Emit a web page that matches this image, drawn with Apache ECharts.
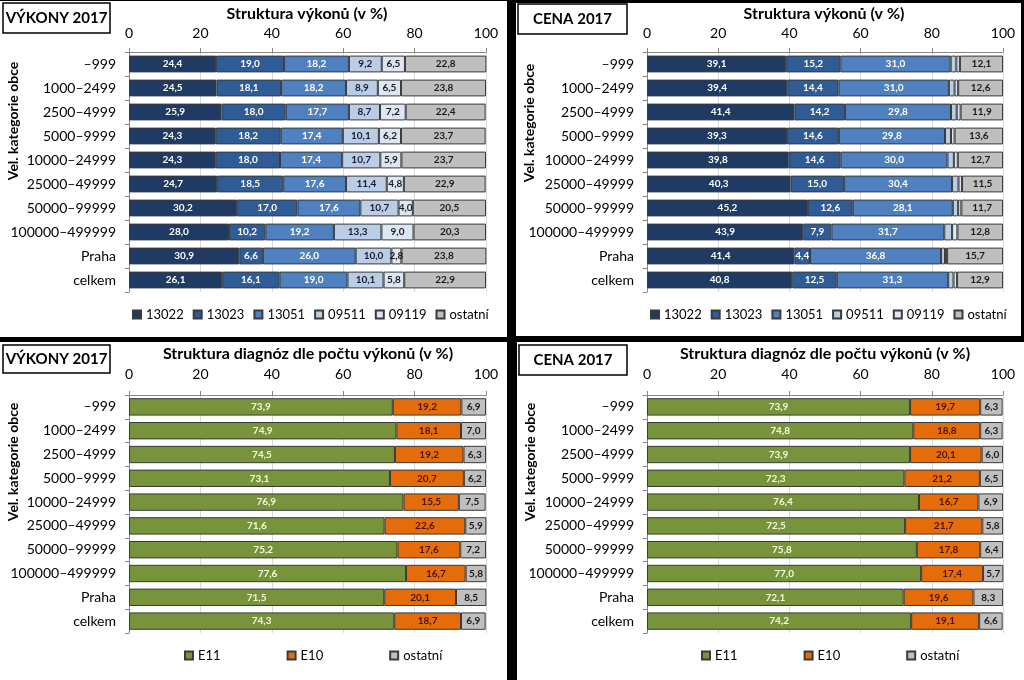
<!DOCTYPE html>
<html><head><meta charset="utf-8">
<script src="https://cdn.jsdelivr.net/npm/echarts@6/dist/echarts.min.js"></script>
<style>
html,body{margin:0;padding:0;background:#000;width:1024px;height:680px;overflow:hidden}
.p{position:absolute;background:#fff}
</style></head><body>
<div id="tl" class="p" style="left:0;top:1px;width:507px;height:336px"></div>
<div id="tr" class="p" style="left:516px;top:3px;width:505px;height:333px"></div>
<div id="bl" class="p" style="left:0;top:342px;width:507px;height:338px"></div>
<div id="br" class="p" style="left:517px;top:342px;width:507px;height:338px"></div>
<script>
const categories = ['–999','1000–2499','2500–4999','5000–9999','10000–24999','25000–49999','50000–99999','100000–499999','Praha','celkem'];
const xTicks = [0,20,40,60,80,100];

const vykony13022 = [24.4,24.5,25.9,24.3,24.3,24.7,30.2,28.0,30.9,26.1];
const vykony13023 = [19.0,18.1,18.0,18.2,18.0,18.5,17.0,10.2,6.6,16.1];
const vykony13051 = [18.2,18.2,17.7,17.4,17.4,17.6,17.6,19.2,26.0,19.0];
const vykony09511 = [9.2,8.9,8.7,10.1,10.7,11.4,10.7,13.3,10.0,10.1];
const vykony09119 = [6.5,6.5,7.2,6.2,5.9,4.8,4.0,9.0,2.8,5.8];
const vykonyOstatni = [22.8,23.8,22.4,23.7,23.7,22.9,20.5,20.3,23.8,22.9];

const cena13022 = [39.1,39.4,41.4,39.3,39.8,40.3,45.2,43.9,41.4,40.8];
const cena13023 = [15.2,14.4,14.2,14.6,14.6,15.0,12.6,7.9,4.4,12.5];
const cena13051 = [31.0,31.0,29.8,29.8,30.0,30.4,28.1,31.7,36.8,31.3];
const cena09511 = [1.6,1.6,1.6,1.7,1.8,1.8,1.5,2.2,1.1,1.5];
const cena09119 = [1.0,1.0,1.1,1.0,1.1,1.0,0.9,1.5,0.6,1.0];
const cenaOstatni = [12.1,12.6,11.9,13.6,12.7,11.5,11.7,12.8,15.7,12.9];

const diagVykonyE11 = [73.9,74.9,74.5,73.1,76.9,71.6,75.2,77.6,71.5,74.3];
const diagVykonyE10 = [19.2,18.1,19.2,20.7,15.5,22.6,17.6,16.7,20.1,18.7];
const diagVykonyOstatni = [6.9,7.0,6.3,6.2,7.5,5.9,7.2,5.8,8.5,6.9];

const diagCenaE11 = [73.9,74.8,73.9,72.3,76.4,72.5,75.8,77.0,72.1,74.2];
const diagCenaE10 = [19.7,18.8,20.1,21.2,16.7,21.7,17.8,17.4,19.6,19.1];
const diagCenaOstatni = [6.3,6.3,6.0,6.5,6.9,5.8,6.4,5.7,8.3,6.6];

const FONT = 'Lato, "Open Sans", sans-serif';
const fmt = p => p.value.toFixed(1).replace('.', ',');

function panel(id, o) {
  const chart = echarts.init(document.getElementById(id), null, {renderer: 'canvas'});
  const series = o.series.map(s => ({
    name: s.name, type: 'bar', stack: 'all', data: s.data,
    barCategoryGap: o.gap,
    itemStyle: {color: s.color, borderColor: '#3a3a3a', borderWidth: 1},
    label: {show: s.label !== false, position: 'inside', formatter: fmt,
      color: s.textColor, fontFamily: FONT, fontWeight: 'bold', fontSize: 10},
    emphasis: {disabled: true}
  }));
  chart.setOption({
    animation: false,
    textStyle: {fontFamily: FONT},
    title: {text: o.title, left: o.titleX, top: o.titleY, textAlign: 'center', padding: 0,
      textStyle: {fontFamily: FONT, fontWeight: 'bold', fontSize: 16, color: '#000'}},
    grid: {left: o.grid[0], top: o.grid[1], width: o.grid[2], height: o.grid[3]},
    xAxis: {type: 'value', position: 'top', min: 0, max: 100, interval: 20,
      axisLine: {show: true, lineStyle: {color: '#868686'}},
      axisTick: {show: true, length: 4, lineStyle: {color: '#868686'}},
      axisLabel: {fontSize: 14, color: '#000', margin: o.labelMargin, fontFamily: FONT},
      splitLine: {show: true, lineStyle: {color: '#d9d9d9'}}},
    yAxis: {type: 'category', data: categories, inverse: true,
      axisLine: {show: true, lineStyle: {color: '#868686'}},
      axisTick: {show: true, length: 4, lineStyle: {color: '#868686'}},
      axisLabel: {fontSize: 14, color: '#000', margin: 13, fontFamily: FONT}},
    legend: {left: o.legendX, top: o.legendY, width: 420, padding: 0,
      itemWidth: 8, itemHeight: 8, itemGap: o.legendGap,
      icon: 'rect', selectedMode: false,
      textStyle: {fontSize: 13, color: '#000', fontFamily: FONT},
      data: o.series.map(s => s.name)},
    graphic: [
      {type: 'rect', shape: {x: o.box[0], y: o.box[1], width: o.box[2], height: o.box[3]},
        style: {fill: '#fff', stroke: '#000', lineWidth: 1.5}},
      {type: 'text', x: o.box[0] + o.box[2] / 2, y: o.box[1] + o.box[3] / 2,
        style: {text: o.boxText, fontFamily: FONT, fontWeight: 'bold', fontSize: 15,
          fill: '#000', align: 'center', verticalAlign: 'middle'}},
      {type: 'text', x: 13, y: 120, rotation: Math.PI / 2,
        style: {text: 'Vel. kategorie obce', fontFamily: FONT, fontWeight: 'bold', fontSize: 14,
          fill: '#000', align: 'center', verticalAlign: 'middle'}}
    ],
    series: series
  });
}

const blueDark = '#1f3b63', blueMid = '#2f5c97', blueLight = '#4f81c0', blueLighter = '#b9cde5', bluePale = '#dde7f3', grey = '#bfbfbf';
const green = '#77933c', orange = '#e46c0a';

panel('tl', {
  title: 'Struktura výkonů (v %)', titleX: 307, titleY: 5,
  grid: [129, 51, 357, 240], gap: '30%', labelMargin: 12,
  legendX: 132, legendY: 307, legendGap: 9,
  box: [3, 2, 107, 30], boxText: 'VÝKONY 2017',
  series: [
    {name: '13022', data: vykony13022, color: blueDark, textColor: '#fff'},
    {name: '13023', data: vykony13023, color: blueMid, textColor: '#fff'},
    {name: '13051', data: vykony13051, color: blueLight, textColor: '#fff'},
    {name: '09511', data: vykony09511, color: blueLighter, textColor: '#1a1a2e'},
    {name: '09119', data: vykony09119, color: bluePale, textColor: '#1a1a1a'},
    {name: 'ostatní', data: vykonyOstatni, color: grey, textColor: '#1a1a1a'}
  ]
});
panel('tr', {
  title: 'Struktura výkonů (v %)', titleX: 308, titleY: 3,
  grid: [131, 49, 356, 240], gap: '30%', labelMargin: 12,
  legendX: 134, legendY: 305, legendGap: 9,
  box: [2, 1, 109, 30], boxText: 'CENA 2017',
  series: [
    {name: '13022', data: cena13022, color: blueDark, textColor: '#fff'},
    {name: '13023', data: cena13023, color: blueMid, textColor: '#fff'},
    {name: '13051', data: cena13051, color: blueLight, textColor: '#fff'},
    {name: '09511', data: cena09511, color: blueLighter, textColor: '#1a1a2e', label: false},
    {name: '09119', data: cena09119, color: bluePale, textColor: '#1a1a1a', label: false},
    {name: 'ostatní', data: cenaOstatni, color: grey, textColor: '#1a1a1a'}
  ]
});
panel('bl', {
  title: 'Struktura diagnóz dle počtu výkonů (v %)', titleX: 308, titleY: 4,
  grid: [129, 53, 357, 238], gap: '27%', labelMargin: 14,
  legendX: 184, legendY: 307, legendGap: 66,
  box: [3, 3, 107, 28], boxText: 'VÝKONY 2017',
  series: [
    {name: 'E11', data: diagVykonyE11, color: green, textColor: '#fafadc'},
    {name: 'E10', data: diagVykonyE10, color: orange, textColor: '#4a1200'},
    {name: 'ostatní', data: diagVykonyOstatni, color: grey, textColor: '#1a1a1a'}
  ]
});
panel('br', {
  title: 'Struktura diagnóz dle počtu výkonů (v %)', titleX: 308, titleY: 4,
  grid: [130, 53, 356, 238], gap: '27%', labelMargin: 14,
  legendX: 184, legendY: 307, legendGap: 66,
  box: [2, 3, 108, 30], boxText: 'CENA 2017',
  series: [
    {name: 'E11', data: diagCenaE11, color: green, textColor: '#fafadc'},
    {name: 'E10', data: diagCenaE10, color: orange, textColor: '#4a1200'},
    {name: 'ostatní', data: diagCenaOstatni, color: grey, textColor: '#1a1a1a'}
  ]
});
</script></body></html>
